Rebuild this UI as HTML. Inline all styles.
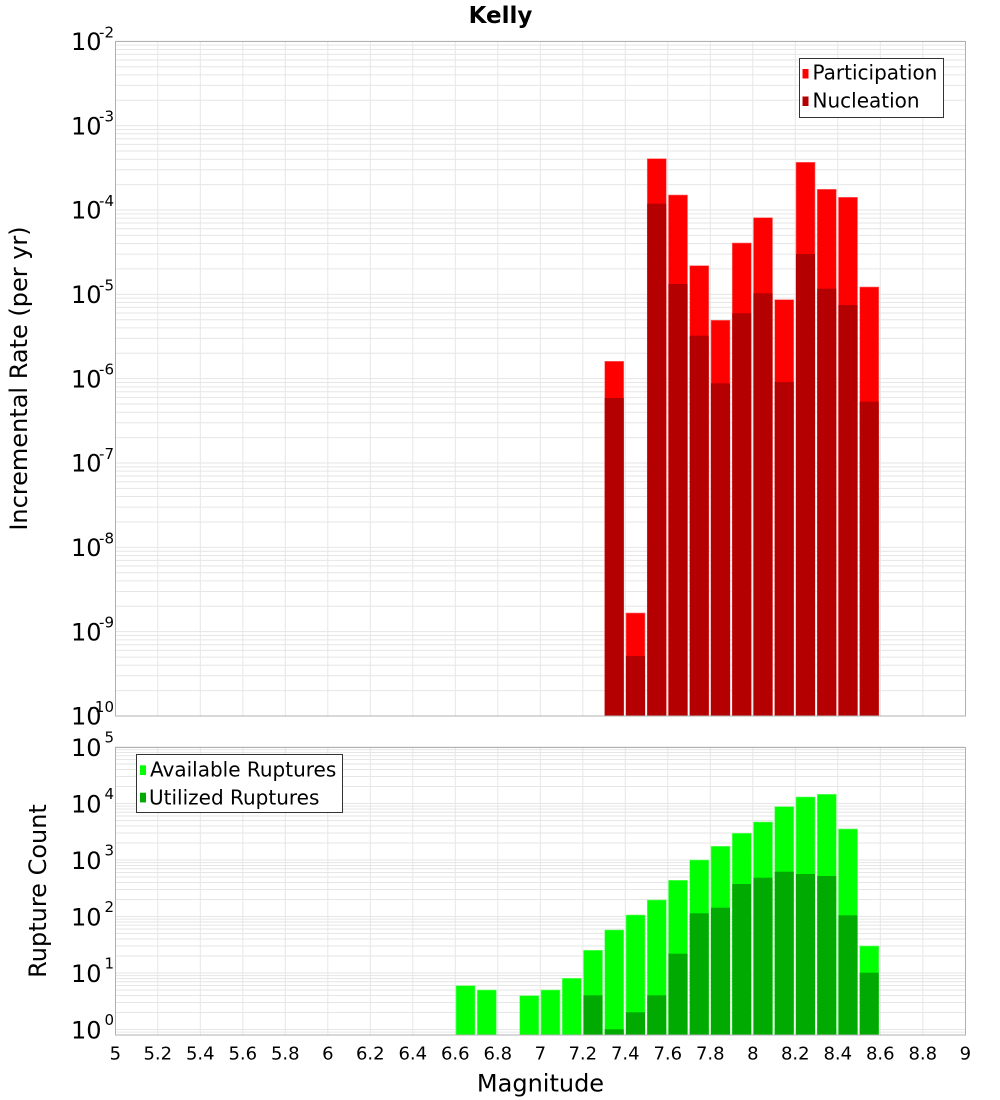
<!DOCTYPE html>
<html><head><meta charset="utf-8"><style>
html,body{margin:0;padding:0;background:#fff;}
svg{display:block;font-family:"DejaVu Sans","Liberation Sans",sans-serif;}
</style></head><body>
<svg width="1000" height="1100" viewBox="0 0 1000 1100" xmlns="http://www.w3.org/2000/svg">
<defs>
<g id="dt" stroke="#e6e6e6" stroke-width="1">
<line x1="115" x2="965" y1="0" y2="0"/>
<line x1="115" x2="965" y1="3.86" y2="3.86"/>
<line x1="115" x2="965" y1="8.17" y2="8.17"/>
<line x1="115" x2="965" y1="13.06" y2="13.06"/>
<line x1="115" x2="965" y1="18.71" y2="18.71"/>
<line x1="115" x2="965" y1="25.39" y2="25.39"/>
<line x1="115" x2="965" y1="33.56" y2="33.56"/>
<line x1="115" x2="965" y1="44.10" y2="44.10"/>
<line x1="115" x2="965" y1="58.95" y2="58.95"/>
</g>
<g id="db" stroke="#e6e6e6" stroke-width="1">
<line x1="115" x2="965" y1="0" y2="0"/>
<line x1="115" x2="965" y1="2.59" y2="2.59"/>
<line x1="115" x2="965" y1="5.47" y2="5.47"/>
<line x1="115" x2="965" y1="8.75" y2="8.75"/>
<line x1="115" x2="965" y1="12.53" y2="12.53"/>
<line x1="115" x2="965" y1="17.01" y2="17.01"/>
<line x1="115" x2="965" y1="22.48" y2="22.48"/>
<line x1="115" x2="965" y1="29.54" y2="29.54"/>
<line x1="115" x2="965" y1="39.49" y2="39.49"/>
</g>
</defs>

<!-- Title -->
<text x="500.5" y="23" font-size="23" font-weight="bold" text-anchor="middle" fill="#000">Kelly</text>

<!-- TOP PLOT gridlines -->
<use href="#dt" transform="translate(0,41.3)"/>
<use href="#dt" transform="translate(0,125.64)"/>
<use href="#dt" transform="translate(0,209.98)"/>
<use href="#dt" transform="translate(0,294.32)"/>
<use href="#dt" transform="translate(0,378.66)"/>
<use href="#dt" transform="translate(0,463.0)"/>
<use href="#dt" transform="translate(0,547.34)"/>
<use href="#dt" transform="translate(0,631.68)"/>
<g stroke="#e6e6e6" stroke-width="1">
<line x1="157.8" x2="157.8" y1="41" y2="716"/>
<line x1="200.3" x2="200.3" y1="41" y2="716"/>
<line x1="242.8" x2="242.8" y1="41" y2="716"/>
<line x1="285.3" x2="285.3" y1="41" y2="716"/>
<line x1="327.8" x2="327.8" y1="41" y2="716"/>
<line x1="370.3" x2="370.3" y1="41" y2="716"/>
<line x1="412.8" x2="412.8" y1="41" y2="716"/>
<line x1="455.3" x2="455.3" y1="41" y2="716"/>
<line x1="497.8" x2="497.8" y1="41" y2="716"/>
<line x1="540.3" x2="540.3" y1="41" y2="716"/>
<line x1="582.8" x2="582.8" y1="41" y2="716"/>
<line x1="625.3" x2="625.3" y1="41" y2="716"/>
<line x1="667.8" x2="667.8" y1="41" y2="716"/>
<line x1="710.3" x2="710.3" y1="41" y2="716"/>
<line x1="752.8" x2="752.8" y1="41" y2="716"/>
<line x1="795.3" x2="795.3" y1="41" y2="716"/>
<line x1="837.8" x2="837.8" y1="41" y2="716"/>
<line x1="880.3" x2="880.3" y1="41" y2="716"/>
<line x1="922.8" x2="922.8" y1="41" y2="716"/>
</g>

<!-- Top bars: participation -->
<g fill="#ff0000" stroke="#ff7070" stroke-width="0.6">
<rect x="604.75" y="361.3" width="19" height="354.7"/>
<rect x="626.0" y="613" width="19" height="103"/>
<rect x="647.25" y="158.7" width="19" height="557.3"/>
<rect x="668.5" y="195" width="19" height="521"/>
<rect x="689.75" y="265.7" width="19" height="450.3"/>
<rect x="711.0" y="320.3" width="19" height="395.7"/>
<rect x="732.25" y="243" width="19" height="473"/>
<rect x="753.5" y="217.7" width="19" height="498.3"/>
<rect x="774.75" y="299.7" width="19" height="416.3"/>
<rect x="796.0" y="162.3" width="19" height="553.7"/>
<rect x="817.25" y="189.3" width="19" height="526.7"/>
<rect x="838.5" y="197.3" width="19" height="518.7"/>
<rect x="859.75" y="287" width="19" height="429"/>
</g>
<!-- Top bars: nucleation -->
<g fill="#b40000">
<rect x="604.75" y="398" width="19" height="318"/>
<rect x="626.0" y="656" width="19" height="60"/>
<rect x="647.25" y="203.7" width="19" height="512.3"/>
<rect x="668.5" y="284" width="19" height="432"/>
<rect x="689.75" y="335.7" width="19" height="380.3"/>
<rect x="711.0" y="383.3" width="19" height="332.7"/>
<rect x="732.25" y="313.3" width="19" height="402.7"/>
<rect x="753.5" y="293.3" width="19" height="422.7"/>
<rect x="774.75" y="382" width="19" height="334"/>
<rect x="796.0" y="254" width="19" height="462"/>
<rect x="817.25" y="288.7" width="19" height="427.3"/>
<rect x="838.5" y="305" width="19" height="411"/>
<rect x="859.75" y="401.7" width="19" height="314.3"/>
</g>
<rect x="115.5" y="41.5" width="850" height="674.5" fill="none" stroke="#b0b0b0" stroke-width="1"/>

<!-- Top legend -->
<rect x="799.5" y="58.5" width="144" height="59" fill="#fff" stroke="#333" stroke-width="1"/>
<rect x="802.5" y="69" width="6" height="9.5" fill="#ff0000"/>
<rect x="802.5" y="96.5" width="6" height="9.5" fill="#b40000"/>
<text x="812.5" y="79.3" font-size="20" fill="#000">Participation</text>
<text x="812.5" y="107.7" font-size="20" fill="#000">Nucleation</text>

<!-- Top y tick labels -->
<g font-size="24" fill="#000">
<text x="71" y="50">10</text>
<text x="71" y="134.3">10</text>
<text x="71" y="218.7">10</text>
<text x="71" y="303">10</text>
<text x="71" y="387.4">10</text>
<text x="71" y="471.7">10</text>
<text x="71" y="556">10</text>
<text x="71" y="640.4">10</text>
<text x="71" y="724.7">10</text>
</g>
<g font-size="15" fill="#000" text-anchor="end">
<text x="114" y="37.3">-2</text>
<text x="114" y="121.6">-3</text>
<text x="114" y="206">-4</text>
<text x="114" y="290.3">-5</text>
<text x="114" y="374.7">-6</text>
<text x="114" y="459">-7</text>
<text x="114" y="543.3">-8</text>
<text x="114" y="627.7">-9</text>
<text x="114" y="712">-10</text>
</g>
<text transform="translate(27,378.5) rotate(-90)" font-size="24" text-anchor="middle" fill="#000">Incremental Rate (per yr)</text>

<!-- BOTTOM PLOT gridlines -->
<use href="#db" transform="translate(0,747)"/>
<use href="#db" transform="translate(0,803.5)"/>
<use href="#db" transform="translate(0,860)"/>
<use href="#db" transform="translate(0,916.5)"/>
<use href="#db" transform="translate(0,973)"/>
<g stroke="#e6e6e6" stroke-width="1">
<line x1="115" x2="965" y1="1029.5" y2="1029.5"/>
<line x1="115" x2="965" y1="1032.1" y2="1032.1"/>
<line x1="157.8" x2="157.8" y1="747" y2="1035"/>
<line x1="200.3" x2="200.3" y1="747" y2="1035"/>
<line x1="242.8" x2="242.8" y1="747" y2="1035"/>
<line x1="285.3" x2="285.3" y1="747" y2="1035"/>
<line x1="327.8" x2="327.8" y1="747" y2="1035"/>
<line x1="370.3" x2="370.3" y1="747" y2="1035"/>
<line x1="412.8" x2="412.8" y1="747" y2="1035"/>
<line x1="455.3" x2="455.3" y1="747" y2="1035"/>
<line x1="497.8" x2="497.8" y1="747" y2="1035"/>
<line x1="540.3" x2="540.3" y1="747" y2="1035"/>
<line x1="582.8" x2="582.8" y1="747" y2="1035"/>
<line x1="625.3" x2="625.3" y1="747" y2="1035"/>
<line x1="667.8" x2="667.8" y1="747" y2="1035"/>
<line x1="710.3" x2="710.3" y1="747" y2="1035"/>
<line x1="752.8" x2="752.8" y1="747" y2="1035"/>
<line x1="795.3" x2="795.3" y1="747" y2="1035"/>
<line x1="837.8" x2="837.8" y1="747" y2="1035"/>
<line x1="880.3" x2="880.3" y1="747" y2="1035"/>
<line x1="922.8" x2="922.8" y1="747" y2="1035"/>
</g>

<!-- Bottom bars: available -->
<g fill="#00ff00" stroke="#70ff70" stroke-width="0.6">
<rect x="456.0" y="985.7" width="19" height="49.3"/>
<rect x="477.25" y="990" width="19" height="45"/>
<rect x="519.75" y="995.7" width="19" height="39.3"/>
<rect x="541.0" y="990" width="19" height="45"/>
<rect x="562.25" y="978.3" width="19" height="56.7"/>
<rect x="583.5" y="950.3" width="19" height="84.7"/>
<rect x="604.75" y="930" width="19" height="105"/>
<rect x="626.0" y="915" width="19" height="120"/>
<rect x="647.25" y="900" width="19" height="135"/>
<rect x="668.5" y="880.3" width="19" height="154.7"/>
<rect x="689.75" y="860" width="19" height="175"/>
<rect x="711.0" y="846.3" width="19" height="188.7"/>
<rect x="732.25" y="833.3" width="19" height="201.7"/>
<rect x="753.5" y="822" width="19" height="213"/>
<rect x="774.75" y="806.7" width="19" height="228.3"/>
<rect x="796.0" y="797" width="19" height="238"/>
<rect x="817.25" y="794.3" width="19" height="240.7"/>
<rect x="838.5" y="829" width="19" height="206"/>
<rect x="859.75" y="946" width="19" height="89"/>
</g>
<!-- Bottom bars: utilized -->
<g fill="#00aa00">
<rect x="583.5" y="995.3" width="19" height="39.7"/>
<rect x="604.75" y="1029.3" width="19" height="5.7"/>
<rect x="626.0" y="1012.3" width="19" height="22.7"/>
<rect x="647.25" y="995.3" width="19" height="39.7"/>
<rect x="668.5" y="953.7" width="19" height="81.3"/>
<rect x="689.75" y="913.3" width="19" height="121.7"/>
<rect x="711.0" y="907.7" width="19" height="127.3"/>
<rect x="732.25" y="884" width="19" height="151"/>
<rect x="753.5" y="877.7" width="19" height="157.3"/>
<rect x="774.75" y="871.7" width="19" height="163.3"/>
<rect x="796.0" y="874" width="19" height="161"/>
<rect x="817.25" y="876" width="19" height="159"/>
<rect x="838.5" y="915.3" width="19" height="119.7"/>
<rect x="859.75" y="972.7" width="19" height="62.3"/>
</g>
<rect x="115.5" y="747.5" width="850" height="287.5" fill="none" stroke="#b0b0b0" stroke-width="1"/>

<!-- Bottom legend -->
<rect x="136.5" y="754.5" width="206" height="58" fill="#fff" stroke="#333" stroke-width="1"/>
<rect x="140" y="765.3" width="6" height="9.7" fill="#00ff00"/>
<rect x="140" y="792.7" width="6" height="9.7" fill="#00aa00"/>
<text x="150" y="776.7" font-size="20" fill="#000">Available Ruptures</text>
<text x="149" y="804.3" font-size="20" fill="#000">Utilized Ruptures</text>

<!-- Bottom y tick labels -->
<g font-size="24" fill="#000">
<text x="71" y="756">10</text>
<text x="71" y="812.5">10</text>
<text x="71" y="869">10</text>
<text x="71" y="925.5">10</text>
<text x="71" y="982">10</text>
<text x="71" y="1038.5">10</text>
</g>
<g font-size="15" fill="#000" text-anchor="end">
<text x="114" y="742.3">5</text>
<text x="114" y="798.8">4</text>
<text x="114" y="855.3">3</text>
<text x="114" y="911.8">2</text>
<text x="114" y="968.3">1</text>
<text x="114" y="1024.8">0</text>
</g>
<text transform="translate(46,891) rotate(-90)" font-size="24" text-anchor="middle" fill="#000">Rupture Count</text>

<!-- X tick labels -->
<g font-size="18" fill="#000" text-anchor="middle">
<text x="115.3" y="1059.3">5</text>
<text x="157.8" y="1059.3">5.2</text>
<text x="200.3" y="1059.3">5.4</text>
<text x="242.8" y="1059.3">5.6</text>
<text x="285.3" y="1059.3">5.8</text>
<text x="327.8" y="1059.3">6</text>
<text x="370.3" y="1059.3">6.2</text>
<text x="412.8" y="1059.3">6.4</text>
<text x="455.3" y="1059.3">6.6</text>
<text x="497.8" y="1059.3">6.8</text>
<text x="540.3" y="1059.3">7</text>
<text x="582.8" y="1059.3">7.2</text>
<text x="625.3" y="1059.3">7.4</text>
<text x="667.8" y="1059.3">7.6</text>
<text x="710.3" y="1059.3">7.8</text>
<text x="752.8" y="1059.3">8</text>
<text x="795.3" y="1059.3">8.2</text>
<text x="837.8" y="1059.3">8.4</text>
<text x="880.3" y="1059.3">8.6</text>
<text x="922.8" y="1059.3">8.8</text>
<text x="965.3" y="1059.3">9</text>
</g>
<text x="540.5" y="1091.7" font-size="24" text-anchor="middle" fill="#000">Magnitude</text>
</svg>
</body></html>
